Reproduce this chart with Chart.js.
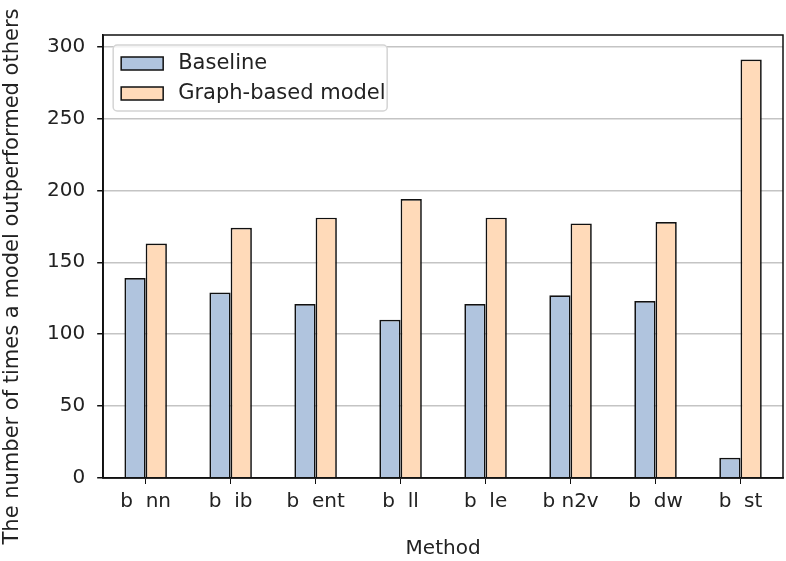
<!DOCTYPE html>
<html>
<head>
<meta charset="utf-8">
<script src="https://cdn.jsdelivr.net/npm/chart.js@4.4.0/dist/chart.umd.min.js"></script>
<style>
  html, body { margin: 0; padding: 0; background: #fff; }
  #wrap { width: 786px; height: 561px; }
</style>
</head>
<body>
<div id="wrap"><canvas id="chart"></canvas></div>
<script>
// values
const methods = ['b  nn', 'b  ib', 'b  ent', 'b  ll', 'b  le', 'b n2v', 'b  dw', 'b  st'];
const baseline = [139, 129, 121, 110, 121, 127, 123, 14];
const graphBased = [163, 174, 181, 194, 181, 177, 178, 291];
const yTicks = [0, 50, 100, 150, 200, 250, 300];
const yTitle = 'The number of times a model outperformed others';

const FONT = 'DejaVu Sans';
const TEXT = '#222';

// spines on all four sides, a matplotlib-style legend box, and the y title
const decor = {
  id: 'decor',
  afterDatasetsDraw(chart) {
    const { ctx, chartArea: a } = chart;
    const x = a.left + 10, y = a.top + 10, w = 274, h = 66;

    ctx.save();
    ctx.beginPath();
    ctx.roundRect(x, y, w, h, 4);
    ctx.fillStyle = 'rgba(255,255,255,0.8)';
    ctx.fill();
    ctx.strokeStyle = '#d4d4d4';
    ctx.lineWidth = 1.5;
    ctx.stroke();

    ctx.font = `21px "${FONT}"`;
    ctx.textBaseline = 'middle';
    chart.data.datasets.forEach((ds, i) => {
      const ry = y + 12 + i * 30;
      ctx.fillStyle = ds.backgroundColor;
      ctx.fillRect(x + 8, ry, 42, 13);
      ctx.strokeStyle = ds.borderColor;
      ctx.lineWidth = 1.5;
      ctx.strokeRect(x + 8, ry, 42, 13);
      ctx.fillStyle = TEXT;
      ctx.fillText(ds.label, x + 65, ry + 7);
    });
    ctx.restore();
  },
  afterDraw(chart) {
    const { ctx, chartArea: a } = chart;
    ctx.save();
    ctx.strokeStyle = '#111';
    ctx.lineWidth = 1.5;
    ctx.strokeRect(a.left, a.top, a.right - a.left, a.bottom - a.top);

    ctx.translate(13, (a.top + a.bottom) / 2 + 20);
    ctx.rotate(-Math.PI / 2);
    ctx.font = `21px "${FONT}"`;
    ctx.fillStyle = TEXT;
    ctx.textAlign = 'center';
    ctx.textBaseline = 'middle';
    ctx.fillText(yTitle, 0, 0);
    ctx.restore();
  }
};

new Chart(document.getElementById('chart'), {
  type: 'bar',
  data: {
    labels: methods,
    datasets: [
      {
        label: 'Baseline',
        data: baseline,
        backgroundColor: '#b0c4de',
        borderColor: '#111',
        borderWidth: 1.7,
      },
      {
        label: 'Graph-based model',
        data: graphBased,
        backgroundColor: '#ffdab9',
        borderColor: '#111',
        borderWidth: 1.7,
      },
    ],
  },
  options: {
    responsive: true,
    maintainAspectRatio: false,
    animation: false,
    datasets: { bar: { categoryPercentage: 0.5, barPercentage: 1.0 } },
    layout: { padding: { left: 35, right: 3, top: 35, bottom: 0 } },
    plugins: {
      legend: { display: false },
      tooltip: { enabled: false },
    },
    scales: {
      x: {
        grid: { offset: false, drawOnChartArea: false, tickColor: '#111', tickLength: 6 },
        border: { color: '#111', width: 1.5 },
        ticks: { font: { family: FONT, size: 20 }, color: TEXT, padding: 6, maxRotation: 0 },
        title: {
          display: true, text: 'Method',
          font: { family: FONT, size: 20 }, color: TEXT,
          padding: { top: 17, bottom: 0 },
        },
      },
      y: {
        min: 0,
        max: 308,
        afterBuildTicks: s => { s.ticks = yTicks.map(v => ({ value: v })); },
        grid: { color: '#c4c4c4', lineWidth: 1.5, tickColor: '#111', tickLength: 6 },
        border: { color: '#111', width: 1.5 },
        ticks: { font: { family: FONT, size: 20 }, color: TEXT, padding: 12 },
      },
    },
  },
  plugins: [decor],
});
</script>
</body>
</html>
